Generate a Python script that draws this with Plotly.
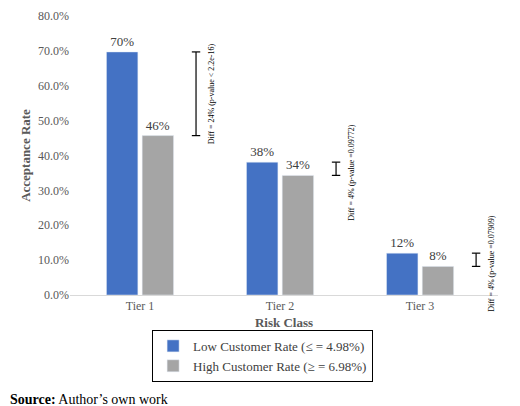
import plotly.graph_objects as go

categories = ["Tier 1", "Tier 2", "Tier 3"]
low_rate = [69.7, 38.1, 12.0]
high_rate = [45.7, 34.3, 8.2]
low_labels = ["70%", "38%", "12%"]
high_labels = ["46%", "34%", "8%"]
diff_labels = ["Diff = 24% (p-value < 2.2e-16)", "Diff = 4% (p-value =0.09772)", "Diff = 4% (p-value =0.07909)"]
y_ticks = [0, 10, 20, 30, 40, 50, 60, 70, 80]

F = "Liberation Serif"
fig = go.Figure()
fig.add_bar(x=categories, y=low_rate, name="Low Customer Rate (≤ = 4.98%)", marker_color="#4472C4",
            text=low_labels, textposition="outside", textfont=dict(size=13, color="#404040", family=F), cliponaxis=False)
fig.add_bar(x=categories, y=high_rate, name="High Customer Rate (≥ = 6.98%)", marker_color="#A5A5A5",
            text=high_labels, textposition="outside", textfont=dict(size=13, color="#404040", family=F), cliponaxis=False)

for i in range(3):
    xb = i + 0.40
    lo, hi = high_rate[i], low_rate[i]
    fig.add_shape(type="line", x0=xb, x1=xb, y0=lo, y1=hi, line=dict(color="black", width=1.2))
    for yy in (lo, hi):
        fig.add_shape(type="line", x0=xb - 0.03, x1=xb + 0.03, y0=yy, y1=yy, line=dict(color="black", width=1.2))
    fig.add_annotation(x=xb + 0.11, y=(lo + hi) / 2 + (0 if i == 0 else -1), text=diff_labels[i], textangle=-90,
                       showarrow=False, font=dict(size=8, family=F, color="black"))

fig.add_annotation(xref="paper", yref="paper", x=-0.145, y=-0.376, xanchor="left", yanchor="middle",
                   text="<b>Source:</b> Author’s own work", showarrow=False, font=dict(size=14, family=F, color="black"))

fig.update_layout(
    width=520, height=406, margin=dict(l=62, r=30, t=8, b=119, autoexpand=False),
    paper_bgcolor="white", plot_bgcolor="white",
    barmode="group", bargap=0.49, bargroupgap=0.12,
    font=dict(family=F, color="#595959"),
    legend=dict(orientation="h", x=0.45, xanchor="center", yref="container", y=0.143, yanchor="middle",
                bordercolor="black", borderwidth=1, itemwidth=30, tracegroupgap=0,
                font=dict(size=13, color="#404040")),
    xaxis=dict(showline=True, linecolor="#D9D9D9", tickfont=dict(size=12, color="#595959"), automargin=False,
               title=dict(text="<b>Risk Class</b>", font=dict(size=13, color="#595959"), standoff=6)),
    yaxis=dict(range=[0, 80], tickvals=y_ticks, ticktext=[f"{v:.1f}%" for v in y_ticks], showgrid=False,
               tickfont=dict(size=12, color="#595959"), zeroline=False, automargin=False,
               title=dict(text="<b>Acceptance Rate</b>", font=dict(size=13, color="#595959"), standoff=4)),
)
fig.write_html("out.html")
